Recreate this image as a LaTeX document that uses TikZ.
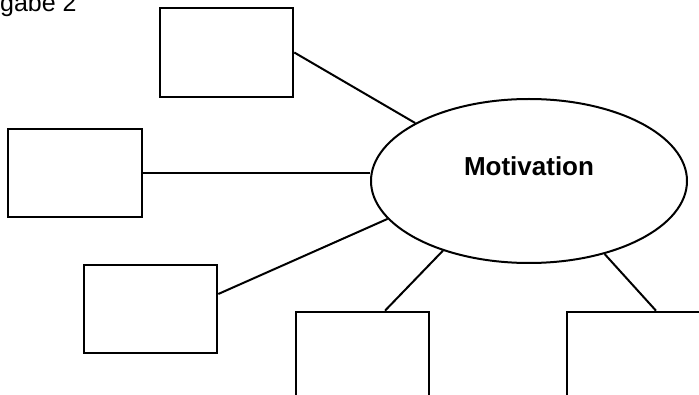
\documentclass[tikz,border=0pt]{standalone}
\usepackage{fontspec}
\setmainfont{Liberation Sans}
\usetikzlibrary{positioning,shapes}

\begin{document}
\begin{tikzpicture}[x=1pt,y=-1pt,
    box/.style={draw,line width=2.6pt,minimum width=133pt,minimum height=89pt,inner sep=0pt},
    conn/.style={line width=2pt}]
    \useasboundingbox (0,0) rectangle (699,395);
    \node[anchor=base west,inner sep=0pt,font=\fontsize{25}{30}\selectfont] (hd) at (0,12) {gabe 2};
    \node[box] (tl) at (226.5,52.5) {};
    \node[box,minimum width=134pt,minimum height=88pt] (ml) at (75,173) {};
    \node[box,minimum height=88pt] (bl) at (150.5,309) {};
    \node[box] (bm) at (362.5,356.5) {};
    \node[box] (br) at (633.5,356.5) {};
    \node[draw,ellipse,line width=2pt,minimum width=316pt,minimum height=164pt,inner sep=0pt,
          text height=19pt,text depth=29pt,font=\bfseries\fontsize{26}{30}\selectfont] (mot) at (529,181) {Motivation};
    \draw[conn] (tl.east)--(mot.153);
    \draw[conn] (ml.east)--(ml.east -| mot.west);
    \draw[conn] ([yshift=15pt]bl.east)--(mot.195);
    \draw[conn] ([xshift=22.5pt]bm.north)--(mot.219);
    \draw[conn] ([xshift=22.5pt]br.north)--(mot.316);
  \end{tikzpicture}
\end{document}
